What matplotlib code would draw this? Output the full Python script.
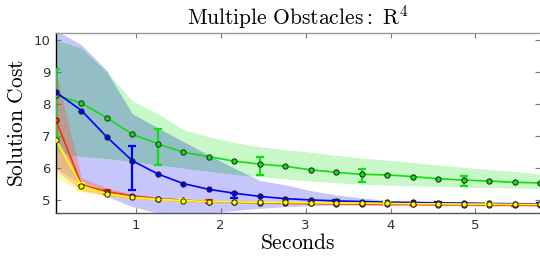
##### Importaciones #####
import matplotlib
matplotlib.use('Agg')
import matplotlib.pyplot as plt
import numpy as np

plt.rcParams['mathtext.fontset'] = 'cm'

###### DATOS ######
# tiempos de muestreo (segundos)
seconds = [0.06, 0.36, 0.66, 0.96, 1.26, 1.56, 1.86, 2.16, 2.46, 2.76,
           3.06, 3.36, 3.66, 3.96, 4.26, 4.56, 4.86, 5.16, 5.46, 5.76]

# costo medio de cada planificador
green_cost = [8.28, 8.03, 7.57, 7.06, 6.76, 6.50, 6.36, 6.22, 6.13, 6.06,
              5.95, 5.87, 5.81, 5.79, 5.74, 5.67, 5.63, 5.60, 5.56, 5.54]
blue_cost = [8.37, 7.80, 6.97, 6.23, 5.82, 5.52, 5.34, 5.22, 5.12, 5.05,
             5.01, 4.98, 4.96, 4.94, 4.93, 4.92, 4.91, 4.90, 4.89, 4.89]
red_cost = [7.50, 5.48, 5.27, 5.13, 5.05, 5.00, 4.96, 4.94, 4.92, 4.91,
            4.90, 4.89, 4.88, 4.87, 4.87, 4.86, 4.86, 4.85, 4.85, 4.84]
yellow_cost = [6.88, 5.45, 5.20, 5.09, 5.03, 4.99, 4.96, 4.95, 4.93, 4.93,
               4.92, 4.91, 4.91, 4.90, 4.89, 4.89, 4.88, 4.88, 4.87, 4.87]

# bandas sombreadas (limite inferior / superior)
green_lo = [6.50, 6.36, 6.30, 6.20, 6.10, 6.00, 5.90, 5.80, 5.73, 5.67,
            5.60, 5.55, 5.50, 5.47, 5.45, 5.43, 5.41, 5.40, 5.38, 5.37]
green_up = [10.0, 9.75, 9.00, 8.10, 7.70, 7.20, 6.98, 6.80, 6.67, 6.58,
            6.50, 6.40, 6.32, 6.25, 6.18, 6.10, 6.03, 5.96, 5.90, 5.82]
blue_lo = [6.00, 5.50, 5.12, 4.80, 4.60, 4.55, 4.60, 4.68, 4.75, 4.80,
           4.83, 4.85, 4.86, 4.86, 4.86, 4.86, 4.86, 4.86, 4.86, 4.86]
blue_up = [10.3, 9.85, 9.05, 7.70, 7.26, 6.83, 6.41, 6.00, 5.62, 5.48,
           5.30, 5.17, 5.07, 5.00, 4.97, 4.95, 4.94, 4.93, 4.92, 4.91]
red_lo = [5.94, 5.30, 5.15, 5.06, 5.00, 4.96, 4.93, 4.91, 4.89, 4.88,
          4.87, 4.86, 4.85, 4.84, 4.84, 4.83, 4.83, 4.82, 4.82, 4.81]
red_up = [9.00, 5.70, 5.38, 5.20, 5.10, 5.04, 5.00, 4.97, 4.95, 4.94,
          4.93, 4.92, 4.91, 4.90, 4.90, 4.89, 4.89, 4.88, 4.88, 4.87]
yellow_lo = [5.70, 5.27, 5.10, 5.04, 4.99, 4.96, 4.93, 4.92, 4.90, 4.90,
             4.89, 4.88, 4.88, 4.87, 4.87, 4.86, 4.86, 4.85, 4.85, 4.85]
yellow_up = [6.95, 5.60, 5.30, 5.14, 5.07, 5.02, 4.99, 4.98, 4.96, 4.95,
             4.94, 4.93, 4.93, 4.92, 4.91, 4.91, 4.90, 4.90, 4.89, 4.89]

# barras de error: indice inicial, cada 4 puntos; (inferior, superior)
green_err = [(6.96, 9.10), (6.11, 7.21), (5.79, 6.34), (5.56, 5.96), (5.46, 5.76)]
yellow_err = [(5.33, 5.55), (4.96, 5.03), (4.90, 4.96), (4.88, 4.93), (4.85, 4.91)]
red_err = [(5.20, 5.33), (4.92, 5.00), (4.87, 4.93), (4.84, 4.90), (4.82, 4.88)]
blue_err = [(5.32, 6.69), (5.06, 5.24), (4.95, 5.02), (4.90, 4.95), (4.87, 4.92)]

###### FUNCIONES ######
#draw one planner: line, markers and error bars
def draw_series(ax, cost, err, start, color, z):
    x = np.array(seconds)
    y = np.array(cost)
    ax.plot(x, y, '-', color=color, lw=1.2, zorder=z)
    ax.plot(x, y, 'o', ms=3.8, mfc=color, mec='#202020', mew=0.7, zorder=z + 0.2)
    idx = np.arange(start, len(x), 4)[:len(err)]
    lo = np.array([e[0] for e in err])
    up = np.array([e[1] for e in err])
    ax.errorbar(x[idx], y[idx], yerr=[y[idx] - lo, up - y[idx]], fmt='none',
                ecolor=color, elinewidth=1.6, capsize=3.2, capthick=1.6, zorder=z + 0.1)


###### MAIN ######
fig = plt.figure(figsize=(5.4, 2.66), dpi=100)
ax = fig.add_axes([0.1037, 0.199, 0.8963, 0.677])

x = np.array(seconds)
# bandas: azul, verde y su zona comun
ax.fill_between(x, blue_lo, blue_up, color='#c6c6fb', lw=0, zorder=1)
ax.fill_between(x, green_lo, green_up, color='#c8f8c8', lw=0, zorder=1.1)
lo_common = np.maximum(blue_lo, green_lo)
up_common = np.minimum(blue_up, green_up)
ax.fill_between(x, lo_common, up_common, where=up_common > lo_common,
                interpolate=True, color='#93bec6', lw=0, zorder=1.2)
ax.fill_between(x, red_lo, red_up, color='#ff5a3c', alpha=0.35, lw=0, zorder=1.3)
ax.fill_between(x, yellow_lo, yellow_up, color='#ffee33', alpha=0.35, lw=0, zorder=1.4)

draw_series(ax, green_cost, green_err, 0, '#11dd11', 3)
draw_series(ax, blue_cost, blue_err, 3, '#0000ff', 4)
draw_series(ax, red_cost, red_err, 2, '#ff3300', 5)
draw_series(ax, yellow_cost, yellow_err, 1, '#ffff00', 6)

ax.set_xlim(0.06, 5.76)
ax.set_ylim(4.6, 10.22)
ax.set_xticks([1, 2, 3, 4, 5])
ax.set_yticks([5, 6, 7, 8, 9, 10])
ax.tick_params(direction='in', length=3.5, width=0.8, color='#777777',
               labelsize=9.5, labelcolor='#333333', top=True, right=True, pad=4)

ax.spines['left'].set_color('black')
ax.spines['bottom'].set_color('#555555')
ax.spines['top'].set_color('#999999')
ax.spines['right'].set_visible(False)
for s in ['left', 'bottom', 'top']:
    ax.spines[s].set_linewidth(1.0)

ax.set_title(r'$\mathrm{Multiple\ Obstacles{:}\ R^4}$', fontsize=15.5, pad=6)
ax.set_xlabel(r'$\mathrm{Seconds}$', fontsize=15.5, labelpad=1)
ax.set_ylabel(r'$\mathrm{Solution\ Cost}$', fontsize=15.5, labelpad=5)

fig.savefig('out.png', dpi=100)
